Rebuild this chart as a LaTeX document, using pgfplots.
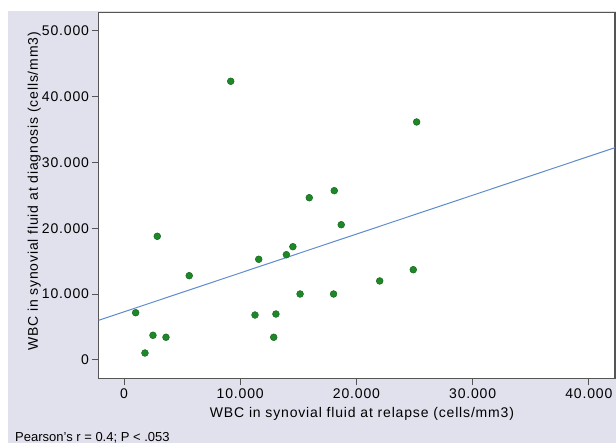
\documentclass[border=0pt]{standalone}
\usepackage{fontspec}
\setmainfont{Liberation Sans}
\newfontfamily\chartfont{Liberation Sans}[LetterSpace=6]
\usepackage{pgfplots}
\pgfplotsset{compat=1.18}
\definecolor{bggray}{RGB}{225,225,237}
\definecolor{framegray}{RGB}{85,85,85}
\definecolor{dotgreen}{RGB}{30,135,40}
\definecolor{dotedge}{RGB}{20,105,30}
\definecolor{fitblue}{RGB}{95,140,205}

\begin{document}
\begin{tikzpicture}
\useasboundingbox (0,0) rectangle (616bp,443bp);
\fill[white] (0,0) rectangle (616bp,443bp);
\fill[bggray] (8bp,0) rectangle (616bp,432bp);
\begin{axis}[
  at={(98.7bp,64.7bp)}, anchor=south west,
  scale only axis, width=516.3bp, height=365.6bp,
  xmin=-2180, xmax=42250, ymin=-2780, ymax=52730,
  xtick={0,10000,20000,30000,40000},
  ytick={0,10000,20000,30000,40000,50000},
  scaled ticks=false,
  /pgf/number format/assume math mode=true,
  /pgf/number format/fixed,
  /pgf/number format/1000 sep={.},
  tick label style={font=\chartfont\fontsize{14.05}{16}\selectfont},
  yticklabel style={inner xsep=2.5bp},
  label style={font=\chartfont\fontsize{14.05}{16}\selectfont},
  axis background/.style={fill=white},
  axis line style={draw=framegray, line width=1.1bp},
  tick style={draw=framegray, line width=1bp},
  major tick length=7bp,
  tick align=outside,
  xtick pos=left, ytick pos=left,
  xlabel={WBC in synovial fluid at relapse (cells/mm3)},
  ylabel={WBC in synovial fluid at diagnosis (cells/mm3)},
  xlabel style={at={(axis description cs:0.510,-0.1079)}, anchor=base},
  ylabel style={at={(axis description cs:-0.1176,0.511)}, anchor=base},
]

% patients
\addplot[only marks, mark=*, mark size=3.4bp,
  mark options={fill=dotgreen, draw=dotedge, line width=0.5bp}] coordinates {
  (1000, 7180)
  (1800, 1060)
  (2490, 3750)
  (3610, 3450)
  (2860, 18780)
  (5610, 12800)
  (9180, 42320)
  (11270, 6830)
  (11590, 15290)
  (12880, 3450)
  (13070, 6980)
  (13970, 15990)
  (14530, 17200)
  (15150, 10020)
  (15940, 24640)
  (18090, 25710)
  (18030, 10020)
  (18690, 20540)
  (22000, 12000)
  (24890, 13710)
  (25180, 36140)
};

% linear fit
\addplot[fitblue, line width=1bp] coordinates {(-2180, 6030) (42250, 32240)};
\end{axis}
\node[anchor=base west, inner sep=0, font=\fontsize{13.05}{15}\selectfont]
  at (15bp,1.4bp) {Pearson’s r = 0.4; P < .053};
\end{tikzpicture}
\end{document}
